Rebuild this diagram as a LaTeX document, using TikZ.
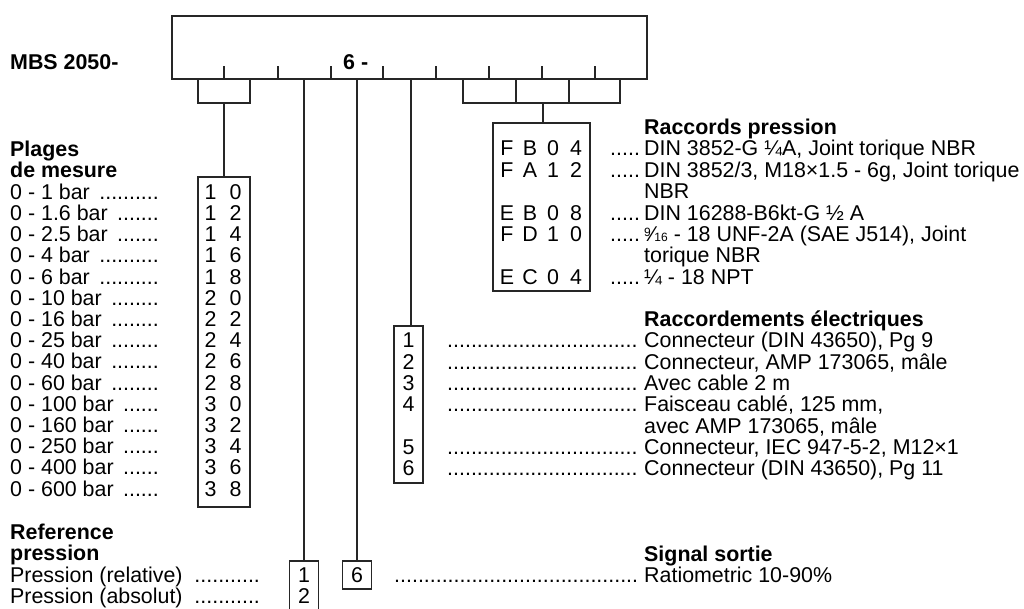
\documentclass[tikz,border=0pt]{standalone}
\usepackage{fontspec}
\setmainfont{Liberation Sans}
\usetikzlibrary{positioning,calc}
\newcommand{\corps}{\fontsize{21.4}{21.3}\selectfont}
\newcommand{\pointille}[2]{\makebox[#1][l]{#2\leaders\hbox{.}\hfill}}
\newcommand{\lettres}[4]{\makebox[23pt]{#1}\makebox[23pt]{#2}\makebox[23pt]{#3}\makebox[23pt]{#4}}
\newcommand{\neufseize}{\raisebox{5pt}{\fontsize{12}{12}\selectfont 9}⁄{\fontsize{12}{12}\selectfont 16}}
\tikzset{
  trait/.style={line width=1.1pt,black!85},
  cadre/.style={trait,draw,inner sep=0pt},
  txt/.style={anchor=base west,inner sep=0pt,font=\corps},
  titre/.style={txt,font=\corps\bfseries},
  chiffre/.style={anchor=base,inner sep=0pt,font=\corps}
}

\begin{document}
\begin{tikzpicture}[x=1pt,y=-1pt]
  \useasboundingbox (0,0) rectangle (1024,608);

  % Designation
  \node[titre] (mbs) at (10,69.5) {MBS 2050-};
  \node[cadre,minimum width=475pt,minimum height=63pt] (modele) at (409.5,47.5) {};
  \foreach \x in {224,278,331,383,436,489,542,595}
    \draw[trait] (\x,66) -- (\x,79);
  \node[titre] (six) at (343,69.5) {6 -};

  % Plages de mesure
  \node[titre] (plages) at (10,156.5) {Plages};
  \node[titre] (mesure) at (10,177.7) {de mesure};
  \node[cadre,minimum width=52pt,minimum height=330pt] (plagesbox) at (224,342) {};
  \foreach \lab/\a/\b [count=\i from 0] in {0 - 1 bar/1/0, 0 - 1.6 bar/1/2, 0 - 2.5 bar/1/4,
      0 - 4 bar/1/6, 0 - 6 bar/1/8, 0 - 10 bar/2/0, 0 - 16 bar/2/2, 0 - 25 bar/2/4,
      0 - 40 bar/2/6, 0 - 60 bar/2/8, 0 - 100 bar/3/0, 0 - 160 bar/3/2,
      0 - 250 bar/3/4, 0 - 400 bar/3/6, 0 - 600 bar/3/8}{
    \node[txt] (plage\i) at (10,199.2+21.2*\i) {\pointille{149pt}{\lab\ }};
    \node[chiffre] (code\i) at (223,199.2+21.2*\i) {\makebox[25pt]{\a}\makebox[25pt]{\b}};
  }
  \draw[trait] (198,79) -- (198,103) -- (250,103) -- (250,79);
  \coordinate (plj) at (224,103);
  \draw[trait] (plj) -- (plagesbox.north);

  % Reference pression
  \node[titre] (reference) at (10,539.5) {Reference};
  \node[titre] (refpress) at (10,560.7) {pression};
  \node[txt] (relative) at (10,582.5) {\pointille{255pt}{Pression (relative) }};
  \node[txt] (absolut) at (10,603.7) {\pointille{255pt}{Pression (absolut) }};
  \node[cadre,minimum width=29pt,minimum height=60pt] (refbox) at (304,591) {};
  \node[chiffre] (ref1) at (304,582.5) {1};
  \node[chiffre] (ref2) at (304,603.7) {2};
  \draw[trait] (refbox.north |- modele.south) -- (refbox.north);

  % Signal sortie
  \node[cadre,minimum width=29pt,minimum height=28pt] (sigbox) at (357,575) {};
  \node[chiffre] (sig6) at (357,582.5) {6};
  \draw[trait] (sigbox.north |- modele.south) -- (sigbox.north);
  \node[txt] (sigdots) at (394,582.5) {\pointille{247pt}{}};
  \node[titre] (signal) at (644,561.2) {Signal sortie};
  \node[txt] (ratio) at (644,582.5) {Ratiometric 10-90\%};

  % Raccordements electriques
  \node[cadre,minimum width=29pt,minimum height=157pt] (elecbox) at (408.5,404.5) {};
  \coordinate (elj) at (411,79);
  \draw[trait] (elj) -- (elj |- elecbox.north);
  \node[titre] (electr) at (644,326.5) {Raccordements électriques};
  \foreach \c/\lab [count=\i] in {1/{Connecteur (DIN 43650), Pg 9},
      2/{Connecteur, AMP 173065, mâle}, 3/{Avec cable 2 m},
      4/{Faisceau cablé, 125 mm,}, /{avec AMP 173065, mâle},
      5/{Connecteur, IEC 947-5-2, M12×1}, 6/{Connecteur (DIN 43650), Pg 11}}{
    \node[chiffre] (el\i) at (408.5,326.5+21.3*\i) {\c};
    \node[txt] (eltxt\i) at (644,326.5+21.3*\i) {\lab};
  }
  \foreach \i in {1,2,3,4,6,7}
    \node[txt] (eldots\i) at (447,326.5+21.3*\i) {\pointille{194pt}{}};

  % Raccords pression
  \draw[trait] (463,79) -- (463,103) -- (620,103) -- (620,79);
  \draw[trait] (516,79) -- (516,103) (569,79) -- (569,103);
  \coordinate (raj) at (543,103);
  \node[cadre,minimum width=97pt,minimum height=168pt] (raccbox) at (541.5,207) {};
  \draw[trait] (raj) -- (raj |- raccbox.north);
  \node[titre] (raccords) at (644,134.5) {Raccords pression};
  \node[chiffre] (fb04) at (541.5,155.9) {\lettres FB04};
  \node[chiffre] (fa12) at (541.5,177.3) {\lettres FA12};
  \node[chiffre] (eb08) at (541.5,220.1) {\lettres EB08};
  \node[chiffre] (fd10) at (541.5,241.5) {\lettres FD10};
  \node[chiffre] (ec04) at (541.5,284.3) {\lettres EC04};
  \foreach \y in {155.9,177.3,220.1,241.5,284.3}
    \node[txt] at (610,\y) {.....};
  \node[txt] (rc1) at (644,155.9) {DIN 3852-G ¼A, Joint torique NBR};
  \node[txt] (rc2) at (644,177.3) {DIN 3852/3, M18×1.5 - 6g, Joint torique};
  \node[txt] (rc3) at (644,198.7) {NBR};
  \node[txt] (rc4) at (644,220.1) {DIN 16288-B6kt-G ½ A};
  \node[txt] (rc5) at (644,241.5) {\neufseize{} - 18 UNF-2A (SAE J514), Joint};
  \node[txt] (rc6) at (644,262.9) {torique NBR};
  \node[txt] (rc7) at (644,284.3) {¼ - 18 NPT};
\end{tikzpicture}
\end{document}
